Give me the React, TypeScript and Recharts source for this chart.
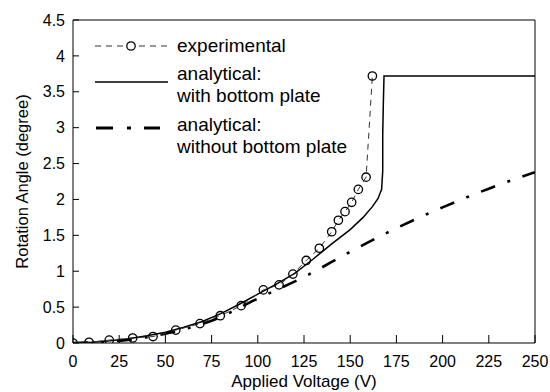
import { LineChart, Line, XAxis, YAxis, ReferenceLine } from 'recharts';

// experimental measurements
const expVoltage = [0, 8.7, 19.6, 32.3, 43.3, 55.6, 68.7, 79.7, 91, 103, 111.5, 119, 126.2, 133.3, 140, 143.6, 147.2, 150.8, 154.4, 158.6, 162];
const expAngle = [0, 0.01, 0.04, 0.07, 0.09, 0.18, 0.27, 0.38, 0.52, 0.74, 0.81, 0.96, 1.15, 1.32, 1.55, 1.71, 1.83, 1.96, 2.14, 2.31, 3.72];

// analytical, with bottom plate
const withVoltage = [0, 10, 20, 30, 40, 50, 60, 70, 80, 90, 100, 110, 120, 130, 140, 150, 157, 162, 165, 167, 167.6, 167.6, 167.9, 168.3, 250];
const withAngle = [0, 0.01, 0.03, 0.06, 0.1, 0.15, 0.22, 0.3, 0.41, 0.54, 0.68, 0.82, 0.97, 1.17, 1.38, 1.58, 1.75, 1.9, 2.01, 2.14, 2.4, 2.9, 3.3, 3.72, 3.72];

// analytical, without bottom plate
const withoutVoltage = [0, 25, 50, 75, 100, 125, 150, 175, 200, 225, 250];
const withoutAngle = [0, 0.03, 0.13, 0.31, 0.62, 0.92, 1.27, 1.6, 1.89, 2.15, 2.38];

const xTicks = [0, 25, 50, 75, 100, 125, 150, 175, 200, 225, 250];
const yTicks = [0, 0.5, 1, 1.5, 2, 2.5, 3, 3.5, 4, 4.5];

const toPoints = (xs: number[], ys: number[]) => xs.map((v, i) => ({ v, a: ys[i] }));

const expData = toPoints(expVoltage, expAngle);
const withData = toPoints(withVoltage, withAngle);
const withoutData = toPoints(withoutVoltage, withoutAngle);

const FONT = '"Liberation Sans", Arial, Helvetica, sans-serif';
const tickStyle = { fill: '#000', fontSize: 16, fontFamily: FONT };

const OpenDot = (props: any) => {
    const { cx, cy, index } = props;
    return <circle key={index} cx={cx} cy={cy} r={4.2} fill="none" stroke="#000" strokeWidth={1.3} />;
};

function LegendBox() {
    const text = { fontSize: 19, fontFamily: FONT, fill: '#000', dominantBaseline: 'central' as const };
    return (
        <svg width={360} height={160} style={{ position: 'absolute', left: 0, top: 0, pointerEvents: 'none' }}>
            <line x1={95} x2={168} y1={46} y2={46} stroke="#333" strokeWidth={1} strokeDasharray="6 5" />
            <circle cx={131} cy={46} r={4.2} fill="#fff" stroke="#000" strokeWidth={1.3} />
            <text x={177} y={45} {...text}>experimental</text>

            <line x1={95} x2={168} y1={82} y2={82} stroke="#000" strokeWidth={1.5} />
            <text x={177} y={73} {...text}>analytical:</text>
            <text x={177} y={95} {...text}>with bottom plate</text>

            <line x1={96} x2={160} y1={128} y2={128} stroke="#000" strokeWidth={3} strokeDasharray="17 14 4 13" />
            <text x={177} y={124} {...text}>analytical:</text>
            <text x={177} y={146} {...text}>without bottom plate</text>
        </svg>
    );
}

export default function App() {
    return (
        <div style={{ position: 'absolute', left: 0, top: 0, width: 550, height: 392, background: '#fff' }}>
            <LineChart width={550} height={392} margin={{ top: 20, right: 15, bottom: 0, left: 0 }}>
                <XAxis
                    type="number"
                    dataKey="v"
                    domain={[0, 250]}
                    ticks={xTicks}
                    height={49}
                    stroke="#000"
                    tickSize={-8}
                    tickMargin={21}
                    tick={tickStyle}
                    allowDataOverflow
                    label={{ value: 'Applied Voltage (V)', position: 'insideBottom', offset: 5, fill: '#000', fontSize: 17, fontFamily: FONT }}
                />
                <YAxis
                    type="number"
                    dataKey="a"
                    domain={[0, 4.5]}
                    ticks={yTicks}
                    width={73}
                    stroke="#000"
                    tickSize={-6}
                    tickMargin={14}
                    tick={tickStyle}
                    allowDataOverflow
                    label={({ viewBox }: any) => {
                        const cy = viewBox.y + viewBox.height / 2;
                        return (
                            <text
                                x={22}
                                y={cy}
                                transform={`rotate(-90, 22, ${cy})`}
                                textAnchor="middle"
                                dominantBaseline="central"
                                fontSize={16.5}
                                fontFamily={FONT}
                                fill="#000"
                            >
                                Rotation Angle (degree)
                            </text>
                        );
                    }}
                />
                <ReferenceLine y={4.5} stroke="#000" strokeWidth={1} />
                <ReferenceLine x={250} stroke="#000" strokeWidth={1} />
                <Line
                    data={withoutData}
                    dataKey="a"
                    type="monotone"
                    stroke="#000"
                    strokeWidth={2.6}
                    strokeDasharray="15 13 3 13"
                    dot={false}
                    isAnimationActive={false}
                />
                <Line
                    data={withData}
                    dataKey="a"
                    type="linear"
                    stroke="#000"
                    strokeWidth={1.5}
                    dot={false}
                    isAnimationActive={false}
                />
                <Line
                    data={expData}
                    dataKey="a"
                    type="linear"
                    stroke="#333"
                    strokeWidth={1}
                    strokeDasharray="6 5"
                    dot={<OpenDot />}
                    isAnimationActive={false}
                />
            </LineChart>
            <LegendBox />
        </div>
    );
}
